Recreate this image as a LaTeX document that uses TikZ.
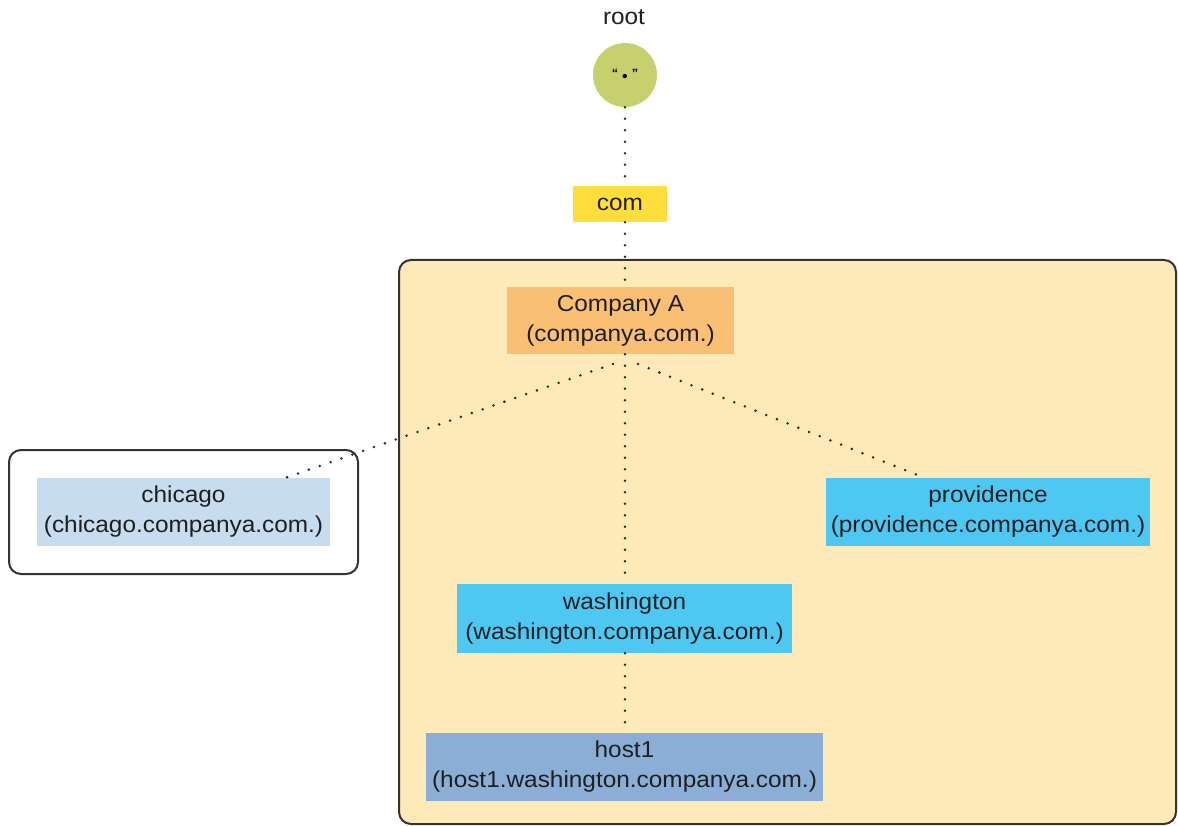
\documentclass[tikz,border=0pt]{standalone}
\usepackage{fontspec}
\setmainfont[FakeStretch=1.06]{Liberation Sans}
\definecolor{rootc}{HTML}{C6D06C}
\definecolor{comc}{HTML}{FDDE3B}
\definecolor{compc}{HTML}{F9BF72}
\definecolor{zonec}{HTML}{FEEAB8}
\definecolor{chic}{HTML}{C7DCEF}
\definecolor{bluec}{HTML}{4DC8F3}
\definecolor{hostc}{HTML}{8BAED6}
\definecolor{linec}{HTML}{2A2A2A}
\tikzset{
  lbl/.style={font=\fontsize{23}{30}\selectfont, align=center, inner sep=0pt, text=black!88},
  boxn/.style={lbl, rectangle, minimum width=#1},
  dotline/.style={draw=linec, line width=2.8pt, dash pattern=on 0pt off 11.5pt, line cap=round},
  frame/.style={draw=black!80, line width=2pt, rounded corners=12pt}
}
\begin{document}
\begin{tikzpicture}[x=1pt,y=-1pt]
\useasboundingbox (0,0) rectangle (1178,826);
% zone frames
\draw[frame, fill=zonec] (399,260) rectangle (1176,824);
\draw[frame, fill=white] (9,450) rectangle (358,574);
% nodes
\node[lbl] (rootl) at (624,17) {root};
\node[circle, fill=rootc, minimum size=64pt, inner sep=0pt] (r) at (625,75) {};
\node[font=\fontsize{12}{12}\selectfont\bfseries, inner sep=0pt] (rq) at (625,75) {“\hspace{4pt}\raisebox{-4pt}{\fontsize{15}{15}\selectfont •}\hspace{4pt}”};
\node[boxn=94pt, fill=comc, minimum height=36pt] (com) at (620,204) {com};
\node[boxn=227pt, fill=compc, minimum height=67pt] (a) at (620.5,320.5) {Company A\\ (companya.com.)};
\node[boxn=293pt, fill=chic, minimum height=68pt] (ch) at (183.5,512) {chicago\\ (chicago.companya.com.)};
\node[boxn=324pt, fill=bluec, minimum height=68pt] (p) at (988,512) {providence\\ (providence.companya.com.)};
\node[boxn=335pt, fill=bluec, minimum height=69pt] (w) at (624.5,618.5) {washington\\ (washington.companya.com.)};
\node[boxn=397pt, fill=hostc, minimum height=68pt] (h) at (624.5,767) {host1\\ (host1.washington.companya.com.)};
% connector ends
\coordinate (aL) at (613,364);
\coordinate (aR) at (638,364);
\coordinate (chT) at (285,478);
\coordinate (pT) at (925,478);
\coordinate (axis) at (625,0);
% connectors
\draw[dotline] (r.south) -- (axis |- com.north);
\draw[dotline] (axis |- com.south) -- (axis |- a.north);
\draw[dotline] (axis |- a.south) -- (axis |- w.north);
\draw[dotline] (axis |- w.south) -- (axis |- h.north);
\draw[dotline] (aL) -- (chT);
\draw[dotline] (aR) -- (pT);
\end{tikzpicture}
\end{document}
